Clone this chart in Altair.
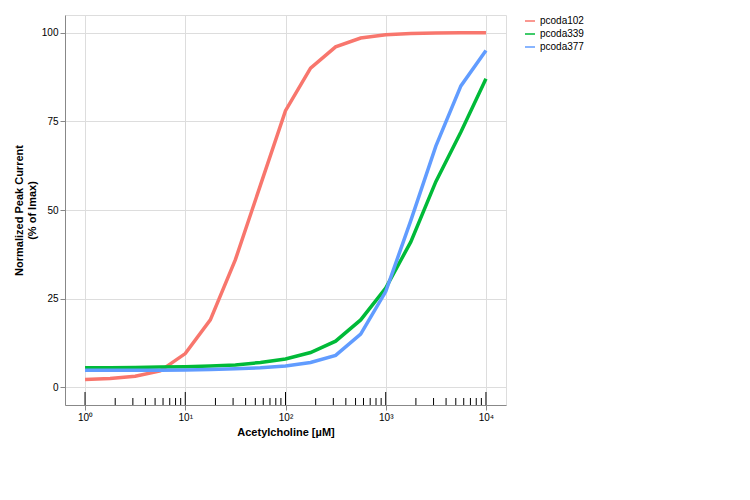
import altair as alt
import pandas as pd

log_x = [0, 0.25, 0.5, 0.75, 1, 1.25, 1.5, 1.75, 2, 2.25, 2.5, 2.75, 3, 3.25, 3.5, 3.75, 4]
pcoda102 = [2.2, 2.5, 3.1, 4.6, 9.5, 19, 36, 57, 78, 90, 96, 98.5, 99.4, 99.8, 99.9, 100, 100]
pcoda339 = [5.5, 5.5, 5.6, 5.7, 5.8, 6.0, 6.3, 7.0, 8.0, 9.8, 13, 19, 28, 41, 58, 72, 87]
pcoda377 = [4.8, 4.8, 4.8, 4.8, 4.9, 5.0, 5.2, 5.5, 6.0, 7.0, 9.0, 15, 27, 47, 68, 85, 95]

rows = []
for name, vals in [("pcoda102", pcoda102), ("pcoda339", pcoda339), ("pcoda377", pcoda377)]:
    for lx, v in zip(log_x, vals):
        rows.append({"conc": 10 ** lx, "resp": v, "clone": name})
df = pd.DataFrame(rows)

major_ticks = pd.DataFrame({"conc": [1, 10, 100, 1000, 10000]})
minor_ticks = pd.DataFrame({"conc": [m * 10 ** d for d in range(4) for m in range(2, 10)]})

xscale = alt.Scale(type="log", domain=[10 ** -0.2, 10 ** 4.2], nice=False)
yscale = alt.Scale(domain=[-5, 105], nice=False)
sup = "{'0':'⁰','1':'¹','2':'²','3':'³','4':'⁴'}"

lines = alt.Chart(df).mark_line(strokeWidth=3.5).encode(
    x=alt.X("conc:Q", scale=xscale, title="Acetylcholine [µM]",
            axis=alt.Axis(values=[1, 10, 100, 1000, 10000], grid=True,
                          labelExpr="'10' + " + sup + "[''+round(log(datum.value)/LN10)]")),
    y=alt.Y("resp:Q", scale=yscale, title=["Normalized Peak Current", "(% of Imax)"],
            axis=alt.Axis(values=[0, 25, 50, 75, 100])),
    color=alt.Color("clone:N", title=None,
                    scale=alt.Scale(domain=["pcoda102", "pcoda339", "pcoda377"],
                                    range=["#F8766D", "#00BA38", "#619CFF"])),
)

ticks_major = alt.Chart(major_ticks).mark_rule(color="black", strokeWidth=1).encode(
    x=alt.X("conc:Q", scale=xscale), y=alt.value(390), y2=alt.value(377),
)
ticks_minor = alt.Chart(minor_ticks).mark_rule(color="black", strokeWidth=1).encode(
    x=alt.X("conc:Q", scale=xscale), y=alt.value(390), y2=alt.value(383),
)

chart = (ticks_major + ticks_minor + lines).properties(width=441, height=390).configure_view(
    fill="#EBEBEB", stroke=None
).configure_axis(
    gridColor="white", domain=False, tickColor="#333333", labelColor="#4D4D4D",
    labelFont="Liberation Sans", titleFont="Liberation Sans", labelFontSize=17,
    titleFontSize=22, titleFontWeight="normal", titleColor="black", tickSize=5,
    labelPadding=4,
).configure_legend(
    labelFont="Liberation Sans", labelFontSize=17, symbolType="stroke",
    symbolStrokeWidth=4, symbolSize=300, orient="right", offset=15,
).configure(padding={"left": 5, "top": 7, "right": 5, "bottom": 5})

chart.save("out.html", embed_options={"renderer": "svg", "actions": False})
